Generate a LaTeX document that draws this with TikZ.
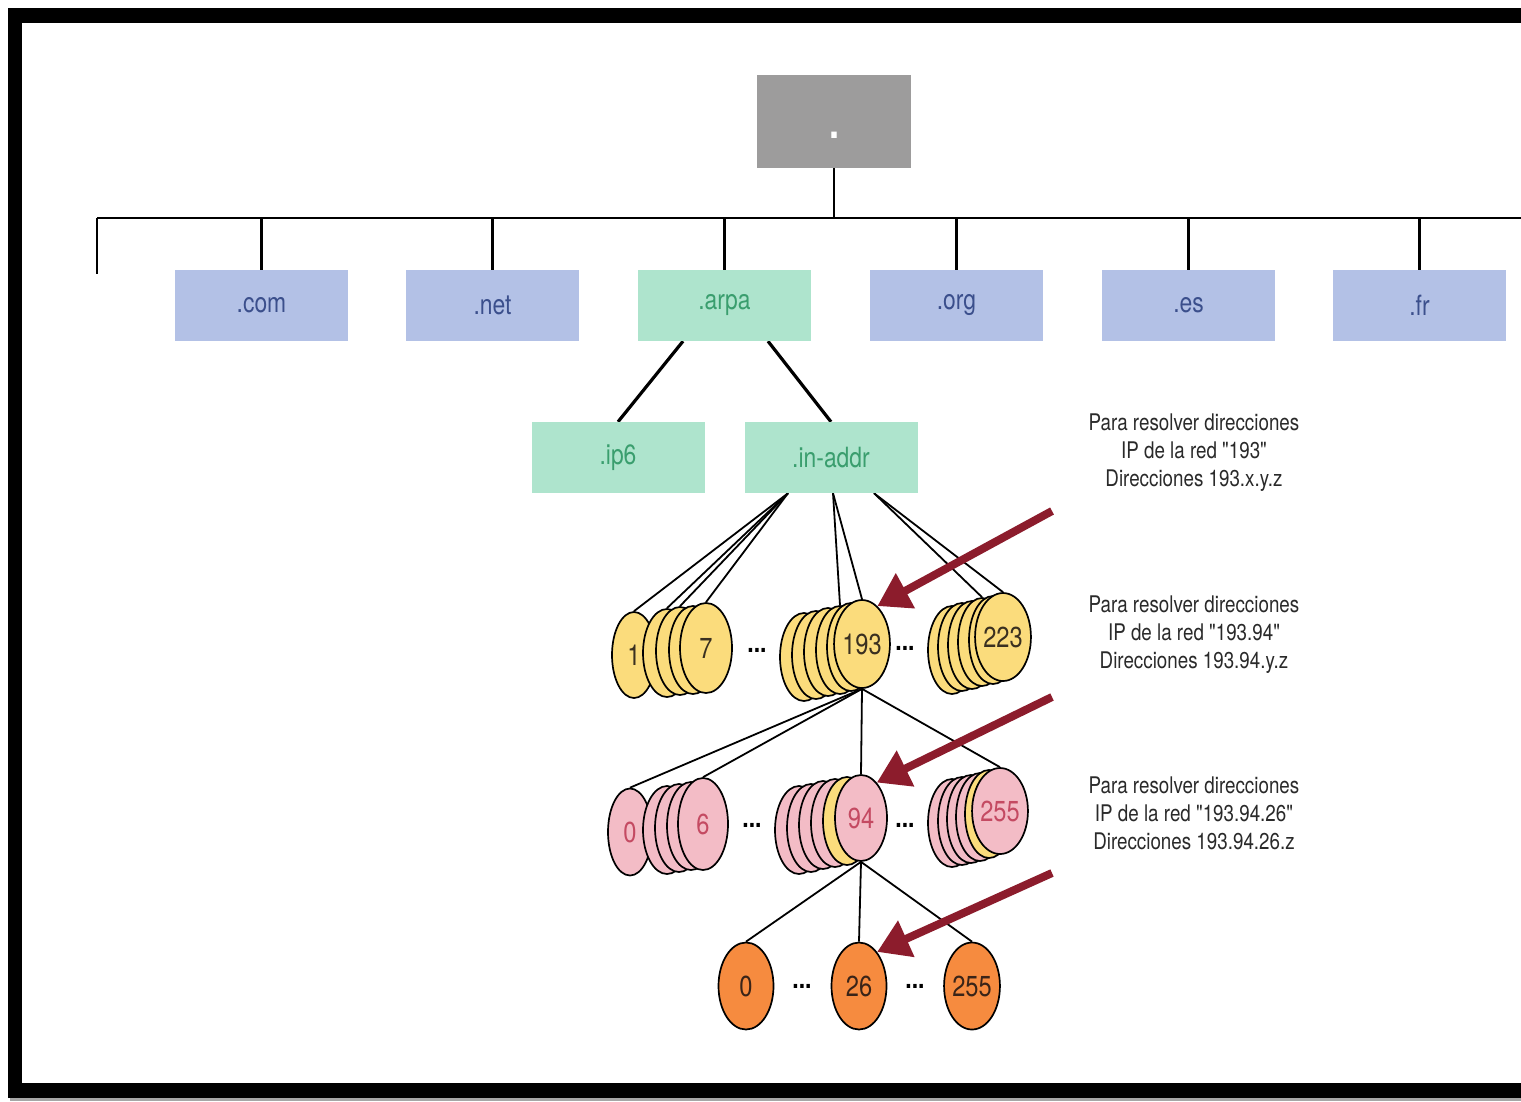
\documentclass[tikz,border=0pt]{standalone}
\usepackage{fontspec}
\setmainfont{TeX Gyre Heros}[FakeStretch=0.82, Ligatures=TeXOff]
\usetikzlibrary{shapes.geometric,arrows.meta}
\definecolor{rootgrey}{HTML}{9D9C9C}
\definecolor{blubox}{HTML}{B3C1E6}
\definecolor{blutext}{HTML}{3B4F8C}
\definecolor{grnbox}{HTML}{AEE4CD}
\definecolor{grntext}{HTML}{3A9E6E}
\definecolor{ylw}{HTML}{FBDC7C}
\definecolor{ytext}{HTML}{3A3020}
\definecolor{pnk}{HTML}{F3BCC6}
\definecolor{ptext}{HTML}{C44A62}
\definecolor{org}{HTML}{F68B3F}
\definecolor{otext}{HTML}{3A2418}
\definecolor{arrowred}{HTML}{8C1C2C}
\definecolor{notetext}{HTML}{2A2A2A}
\pgfdeclarelayer{bg}
\pgfdeclarelayer{edges}
\pgfsetlayers{bg,edges,main}
\tikzset{
  rootbox/.style={rectangle, fill=rootgrey, minimum width=154bp, minimum height=93bp, inner sep=0pt},
  tld/.style={rectangle, fill=blubox, text=blutext, minimum width=173bp, minimum height=71bp, inner sep=0pt, font=\fontsize{28}{28}\selectfont},
  arpbox/.style={tld, fill=grnbox, text=grntext},
  treeline/.style={line width=2.6bp, draw=black},
  fanline/.style={line width=1.8bp, draw=black},
  disc/.style={ellipse, draw=black, line width=1.7bp, minimum width=48bp, minimum height=88bp, inner sep=0pt, font=\fontsize{29}{29}\selectfont},
  ydisc/.style={disc, fill=ylw, text=ytext},
  pdisc/.style={disc, fill=pnk, text=ptext},
  odisc/.style={disc, fill=org, text=otext, minimum width=55bp, minimum height=87bp},
  redarrow/.style={line width=8bp, draw=arrowred, -{Triangle[length=32bp,width=38bp]}},
  note/.style={align=center, font=\fontsize{23}{28}\selectfont, text=notetext},
  dotsnode/.style={font=\fontsize{28}{28}\selectfont\bfseries, text=black},
}
\begin{document}
\begin{tikzpicture}[x=1bp,y=-1bp]
\useasboundingbox (0,0) rectangle (1521,1101);
\begin{pgfonlayer}{bg}
  \fill[white] (0,0) rectangle (1521,1101);
  \fill[black] (8,8) rectangle (1521,1098);
  \fill[white] (22,23) rectangle (1521,1083);
  \fill[black!35] (10,1098) rectangle (1521,1101);
\end{pgfonlayer}

% root
\node[rootbox] (root) at (834,121.5) {};
\node[text=white, font=\fontsize{44}{44}\selectfont\bfseries, inner sep=0pt] (rootdot) at (834,135) {.};

% top level domains
\node[tld] (com) at (261.5,305.5) {.com};
\node[tld] (net) at (492.5,305.5) {.net};
\node[arpbox] (arpa) at (724.5,305.5) {.arpa};
\node[tld] (orgd) at (956.5,305.5) {.org};
\node[tld] (es) at (1188.5,305.5) {.es};
\node[tld] (fr) at (1419.5,305.5) {.fr};

\node[arpbox] (ip6) at (618,457.5) {.ip6};
\node[arpbox] (inaddr) at (831,457.5) {.in-addr};

\coordinate (bar) at (834,218);
\coordinate (barL) at (97,218);
\coordinate (barR) at (1521,218);
\coordinate (leftend) at (97,274);

% yellow stacks
\node[ydisc, minimum width=44bp, minimum height=86bp] (yl1) at (634,655) {1};
\node[ydisc] (yl2) at (667,653) {};
\node[ydisc] (yl3) at (680,651) {};
\node[ydisc] (yl4) at (693,650) {};
\node[ydisc, minimum width=52bp, minimum height=90bp] (yl5) at (706,648) {7};

\node[ydisc] (ym1) at (804,657) {};
\node[ydisc] (ym2) at (816,655) {};
\node[ydisc] (ym3) at (828,652) {};
\node[ydisc] (ym4) at (840,650) {};
\node[ydisc] (ym5) at (851,647) {};
\node[ydisc, minimum width=50bp] (ym6) at (862,644) {193};

\node[ydisc] (yr1) at (952,650) {};
\node[ydisc] (yr2) at (962,647) {};
\node[ydisc] (yr3) at (972,645) {};
\node[ydisc] (yr4) at (982,642) {};
\node[ydisc] (yr5) at (993,640) {};
\node[ydisc, minimum width=50bp] (yr6) at (1003,637) {223};

\node[dotsnode] (yd1) at (757,650) {...};
\node[dotsnode] (yd2) at (905,648) {...};

% pink stacks
\node[pdisc, minimum width=44bp, minimum height=87bp] (pl1) at (630,832) {0};
\node[pdisc] (pl2) at (667,830) {};
\node[pdisc] (pl3) at (679,828) {};
\node[pdisc] (pl4) at (691,826) {};
\node[pdisc, minimum width=50bp, minimum height=92bp] (pl5) at (703,824) {6};

\node[pdisc] (pm1) at (799,830) {};
\node[pdisc] (pm2) at (811,828) {};
\node[pdisc] (pm3) at (823,825) {};
\node[pdisc] (pm4) at (835,823) {};
\node[ydisc] (pm5) at (847,821) {};
\node[pdisc, minimum width=52bp, minimum height=86bp] (pm6) at (861,818) {94};

\node[pdisc] (pr1) at (952,823) {};
\node[pdisc] (pr2) at (962,821) {};
\node[pdisc] (pr3) at (971,819) {};
\node[pdisc] (pr4) at (980,817) {};
\node[ydisc] (pr5) at (989,814) {};
\node[pdisc, minimum width=55bp, minimum height=86bp] (pr6) at (1000,811) {255};

\node[dotsnode] (pd1) at (752,825) {...};
\node[dotsnode] (pd2) at (905,825) {...};

% orange
\node[odisc] (o1) at (746,986) {0};
\node[odisc] (o2) at (859,986) {26};
\node[odisc] (o3) at (972,986) {255};
\node[dotsnode] (od1) at (802,986) {...};
\node[dotsnode] (od2) at (915,986) {...};

% notes
\node[note] (n1) at (1194,453) {Para resolver direcciones\\IP de la red "193"\\Direcciones 193.x.y.z};
\node[note] (n2) at (1194,635) {Para resolver direcciones\\IP de la red "193.94"\\Direcciones 193.94.y.z};
\node[note] (n3) at (1194,813) {Para resolver direcciones\\IP de la red "193.94.26"\\Direcciones 193.94.26.z};

% connectors
\begin{pgfonlayer}{edges}
  \draw[treeline] (root.south) -- (bar);
  \draw[treeline] (barL) -- (barR);
  \draw[treeline] (barL) -- (leftend);
  \foreach \b in {com,net,arpa,orgd,es,fr}
    \draw[treeline] (\b.north |- bar) -- (\b.north);
  \draw[line width=3.2bp] ([xshift=-41.5bp]arpa.south) -- (ip6.north);
  \draw[line width=3.2bp] ([xshift=43.5bp]arpa.south) -- (inaddr.north);

  \coordinate (fL) at ([xshift=-43bp]inaddr.south);
  \coordinate (fM) at ([xshift=2bp]inaddr.south);
  \coordinate (fR) at ([xshift=43bp]inaddr.south);
  \foreach \d in {yl1,yl2,yl3,yl5} \draw[fanline] (fL) -- (\d.north);
  \draw[fanline] (fM) -- (ym4.north);
  \draw[fanline] (fM) -- (ym6.north);
  \draw[fanline] (fR) -- (yr4.north);
  \draw[fanline] (fR) -- (yr6.north);

  \foreach \d in {pl1,pl5,pm6,pr6} \draw[fanline] (ym6.south) -- (\d.north);
  \foreach \d in {o1,o2,o3} \draw[fanline] (pm6.south) -- (\d.north);
\end{pgfonlayer}

% red arrows
\coordinate (a1) at (1052,511);
\coordinate (a2) at (1052,697);
\coordinate (a3) at (1052,873);
\draw[redarrow] (a1) -- (ym6.68);
\draw[redarrow] (a2) -- (pm6.66);
\draw[redarrow] (a3) -- (o2.62);
\end{tikzpicture}
\end{document}
